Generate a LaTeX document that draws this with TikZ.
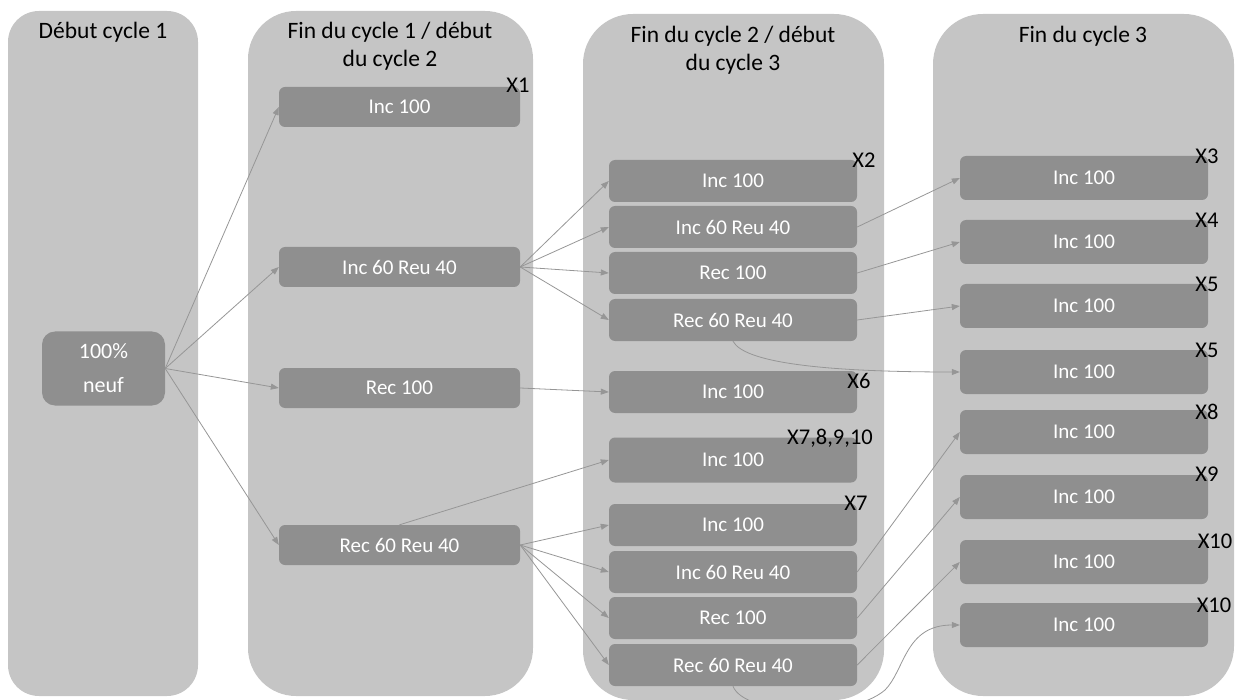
\documentclass[tikz,border=0pt]{standalone}
\usepackage{fontspec}
\setmainfont{Carlito}
\usetikzlibrary{arrows.meta}
\definecolor{panel}{RGB}{197,197,197}
\definecolor{boxc}{RGB}{143,143,143}
\definecolor{conn}{RGB}{150,150,150}
\begin{document}
\begin{tikzpicture}[x=1pt,y=-1pt,
  panelbox/.style={fill=panel, inner sep=0pt},
  stage/.style={fill=boxc, text=white, rounded corners=6pt, inner sep=0pt, minimum height=42pt, font=\fontsize{21}{25}\selectfont},
  stagetwo/.style={stage, minimum width=241pt, minimum height=40pt},
  stagethree/.style={stage, minimum width=248pt, minimum height=42pt},
  stagefour/.style={stage, minimum width=248pt, minimum height=44pt},
  title/.style={align=center, font=\fontsize{23.5}{28}\selectfont, inner sep=0pt},
  xlab/.style={font=\fontsize{22.5}{26}\selectfont, inner sep=0pt},
  link/.style={draw=conn, line width=0.8pt, -{Triangle[length=8pt,width=6pt]}}]
\useasboundingbox (0,0) rectangle (1236,700);
% panels
\node[panelbox, rounded corners=31pt, minimum width=190pt, minimum height=685pt] (p1) at (103,353.5) {};
\node[panelbox, rounded corners=48pt, minimum width=285pt, minimum height=685pt] (p2) at (390.5,353.5) {};
\node[panelbox, rounded corners=50pt, minimum width=301pt, minimum height=686pt] (p3) at (733.5,357) {};
\node[panelbox, rounded corners=50pt, minimum width=301pt, minimum height=682pt] (p4) at (1083.5,355) {};
% titles
\node[title] (t1) at (103,32.2) {Début cycle 1};
\node[title] (t2) at (390,46) {Fin du cycle 1 / début\\du cycle 2};
\node[title] (t3) at (733,50.5) {Fin du cycle 2 / début\\du cycle 3};
\node[title] (t4) at (1083,36.4) {Fin du cycle 3};
% column 1
\node[stage, rounded corners=13pt, minimum width=123pt, minimum height=74pt, align=center, font=\fontsize{22}{34}\selectfont] (n) at (103.5,368.5) {100\%\\neuf};
% column 2
\node[stagetwo] (c2a) at (399.5,107) {Inc 100};
\node[stagetwo] (c2b) at (399.5,267) {Inc 60 Reu 40};
\node[stagetwo] (c2c) at (399.5,388) {Rec 100};
\node[stagetwo] (c2d) at (399.5,545) {Rec 60 Reu 40};
% column 3
\node[stagethree] (c3a) at (733,181) {Inc 100};
\node[stagethree] (c3b) at (733,227) {Inc 60 Reu 40};
\node[stagethree] (c3c) at (733,273) {Rec 100};
\node[stagethree] (c3d) at (733,320) {Rec 60 Reu 40};
\node[stagethree] (c3e) at (733,392) {Inc 100};
\node[stagethree, minimum height=45pt] (c3f) at (733,460) {Inc 100};
\node[stagethree] (c3g) at (733,525) {Inc 100};
\node[stagethree] (c3h) at (733,572) {Inc 60 Reu 40};
\node[stagethree] (c3i) at (733,618) {Rec 100};
\node[stagethree] (c3j) at (733,665) {Rec 60 Reu 40};
% column 4
\node[stagefour] (c4a) at (1084,178) {Inc 100};
\node[stagefour] (c4b) at (1084,242) {Inc 100};
\node[stagefour] (c4c) at (1084,306) {Inc 100};
\node[stagefour] (c4d) at (1084,372) {Inc 100};
\node[stagefour] (c4e) at (1084,432) {Inc 100};
\node[stagefour] (c4f) at (1084,497) {Inc 100};
\node[stagefour] (c4g) at (1084,562) {Inc 100};
\node[stagefour] (c4h) at (1084,625) {Inc 100};
% labels
\node[xlab] (x1) at (518,85) {X1};
\node[xlab] (x2) at (864,160) {X2};
\node[xlab] (x3) at (1207,156) {X3};
\node[xlab] (x4) at (1207,220) {X4};
\node[xlab] (x5) at (1207,284) {X5};
\node[xlab] (x5b) at (1207,350) {X5};
\node[xlab] (x6) at (859,381) {X6};
\node[xlab] (x78) at (830,438) {X7,8,9,10};
\node[xlab] (x7) at (856,503) {X7};
\node[xlab] (x8) at (1207,412) {X8};
\node[xlab] (x9) at (1207,474) {X9};
\node[xlab] (x10) at (1215,541) {X10};
\node[xlab] (x10b) at (1214,605) {X10};
% connectors
\foreach \t in {c2a,c2b,c2c,c2d} \draw[link] (n.east) -- (\t.west);
\foreach \t in {c3a,c3b,c3c,c3d} \draw[link] (c2b.east) -- (\t.west);
\draw[link] (c2c.east) -- (c3e.west);
\draw[link] (c2d.north) -- (c3f.west);
\foreach \t in {c3g,c3h,c3i,c3j} \draw[link] (c2d.east) -- (\t.west);
\draw[link] (c3b.east) -- (c4a.west);
\draw[link] (c3c.east) -- (c4b.west);
\draw[link] (c3d.east) -- (c4c.west);
\draw[link] (c3d.south) .. controls +(11,21) and +(-140,0) .. (c4d.west);
\draw[link] (c3h.east) -- (c4e.west);
\draw[link] (c3i.east) -- (c4f.west);
\draw[link] (c3j.east) -- (c4g.west);
\coordinate (cb) at (885,690);
\draw[link] (c3j.south) .. controls +(11,29) and +(-35,30) .. (cb) .. controls +(20,-20) and +(-55,0) .. (c4h.west);
\end{tikzpicture}
\end{document}
